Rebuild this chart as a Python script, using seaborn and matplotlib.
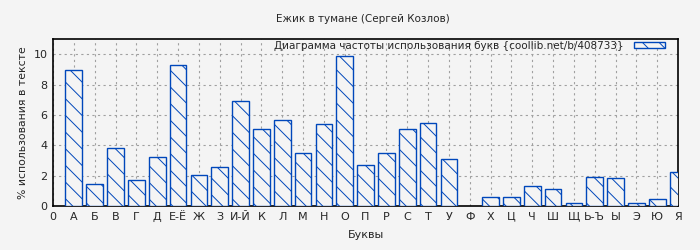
import matplotlib
matplotlib.use("Agg")
import matplotlib.pyplot as plt
import seaborn as sns
import pandas as pd

letters = ["А", "Б", "В", "Г", "Д", "Е-Ё", "Ж", "З", "И-Й", "К", "Л", "М", "Н", "О",
           "П", "Р", "С", "Т", "У", "Ф", "Х", "Ц", "Ч", "Ш", "Щ", "Ь-Ъ", "Ы", "Э", "Ю", "Я"]
values = [8.95, 1.43, 3.80, 1.70, 3.20, 9.27, 2.02, 2.55, 6.90, 5.05, 5.64, 3.47, 5.38, 9.86,
          2.68, 3.47, 5.05, 5.45, 3.08, 0.0, 0.57, 0.57, 1.30, 1.10, 0.18, 1.91, 1.82, 0.18, 0.44, 2.22]
tick_labels = ["0"] + letters
legend_label = "Диаграмма частоты использования букв {coollib.net/b/408733}"

sns.set_theme(style="white")
plt.rcParams['font.family'] = ['DejaVu Sans']
plt.rcParams['hatch.linewidth'] = 0.7
plt.rcParams['hatch.color'] = '#0047bb'

bg = "#f4f4f4"
blue = "#0047bb"
hatch = "\\\\"

df = pd.DataFrame({"pos": list(range(1, len(letters) + 1)), "val": values})

fig = plt.figure(figsize=(7, 2.5), dpi=100, facecolor=bg)
ax = fig.add_axes([0.0757, 0.176, 0.893, 0.668])
ax.set_facecolor(bg)

sns.barplot(data=df, x="pos", y="val", native_scale=True, width=0.8,
            color=bg, edgecolor=blue, linewidth=1.0, hatch=hatch, ax=ax,
            label=legend_label, zorder=3)
for p in ax.patches:
    p.set_facecolor(bg)
    p.set_edgecolor(blue)
    p.set_hatch(hatch)
    if p.get_height() == 0:
        p.set_visible(False)

ax.set_xlim(0, 30)
ax.set_ylim(0, 11)
ax.set_xticks(range(0, 31))
ax.set_xticklabels(tick_labels, fontsize=8)
ax.set_yticks([0, 2, 4, 6, 8, 10])
ax.set_yticklabels(["0", "2", "4", "6", "8", "10"], fontsize=8)
ax.tick_params(axis="both", length=0, pad=4)
ax.grid(True, color="#a0a0a0", linestyle=(0, (2, 3)), linewidth=0.8, zorder=0)
ax.set_axisbelow(True)
for s in ax.spines.values():
    s.set_color("black")
    s.set_linewidth(1.2)

ax.set_xlabel("Буквы", fontsize=8, labelpad=6)
ax.set_ylabel("% использования в тексте", fontsize=7.8, labelpad=4)
fig.text(0.519, 0.925, "Ежик в тумане (Сергей Козлов)", ha="center", va="center", fontsize=7.5)

leg = ax.legend(loc="upper right", bbox_to_anchor=(0.979, 0.99), frameon=False, fontsize=7.5,
                markerfirst=False, handlelength=3.0, handleheight=0.6, borderaxespad=0.0,
                handletextpad=1.0, borderpad=0.0)
for h in leg.legend_handles:
    h.set_facecolor(bg)
    h.set_edgecolor(blue)
    h.set_hatch(hatch)

fig.savefig("out.png", dpi=100, facecolor=bg)
